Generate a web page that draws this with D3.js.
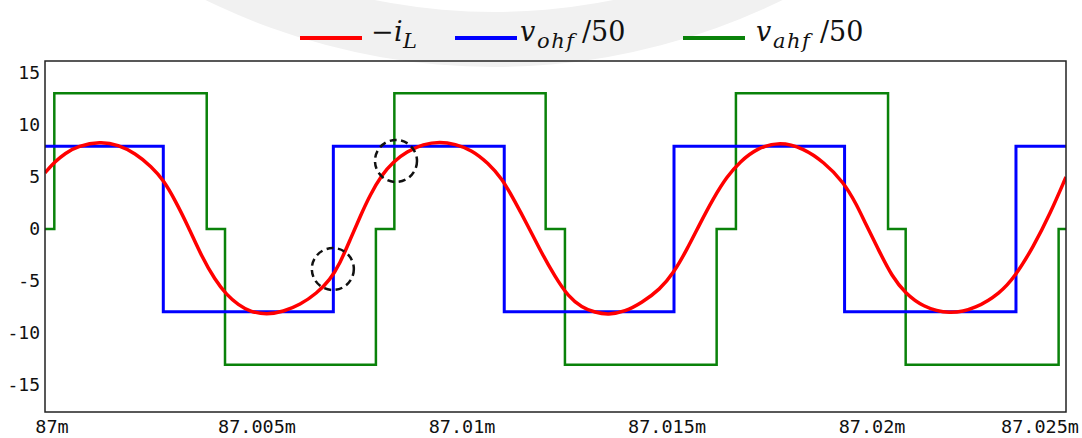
<!DOCTYPE html>
<html>
<head>
<meta charset="utf-8">
<script src="https://cdn.jsdelivr.net/npm/d3@7"></script>
<style>
  body { margin: 0; background: #fff; }
</style>
</head>
<body>
<svg id="chart" width="1082" height="438"></svg>
<script>
// time axis in microseconds after 87 ms
const xTickValues = [0, 5, 10, 15, 20, 25];
const xTickLabels = ["87m", "87.005m", "87.01m", "87.015m", "87.02m", "87.025m"];
const yTickValues = [15, 10, 5, 0, -5, -10, -15];

// -i_L
const iLTimes = [0, 0.244, 0.488, 0.812, 1.341, 1.788, 2.195, 2.602, 2.885, 3.171, 3.495, 3.822, 4.146, 4.432, 4.715, 5.0,
  5.407, 5.812, 6.22, 6.627, 6.951, 7.195, 7.439, 7.683, 7.927, 8.212, 8.495, 8.822, 9.227, 9.634, 10.0,
  10.407, 10.812, 11.139, 11.463, 11.788, 12.115, 12.439, 12.763, 13.09, 13.415, 13.739, 14.146, 14.554, 15.0,
  15.324, 15.651, 15.976, 16.3, 16.627, 16.951, 17.359, 17.927, 18.495, 18.983, 19.471, 19.798, 20.0,
  20.329, 20.659, 20.985, 21.395, 22.054, 22.71, 23.285, 23.654, 24.107, 24.517, 24.9];
const iLValues = [5.4, 6.47, 7.28, 7.98, 8.4, 8.1, 7.28, 5.99, 4.71, 2.79, 0.22, -2.66, -4.9, -6.35, -7.3, -7.95,
  -8.25, -7.95, -7.3, -6.19, -4.9, -3.3, -1.06, 1.18, 3.27, 5.19, 6.47, 7.43, 8.17, 8.4, 8.17,
  7.6, 6.32, 4.88, 2.63, 0.22, -2.34, -4.59, -6.51, -7.53, -8.04, -8.25, -7.95, -7.1, -5.8,
  -4.26, -2.02, 0.54, 2.95, 5.03, 6.47, 7.76, 8.4, 7.76, 6.47, 4.55, 2.31, 0.6,
  -2.02, -4.59, -6.19, -7.47, -8.25, -7.63, -6.19, -4.59, -1.7, 1.5, 5.0];

// v_ohf/50 switching instants and levels
const vohfTimes = [0, 2.885, 7.032, 11.2, 15.34, 19.5, 23.68];
const vohfLevels = [7.95, -7.95, 7.95, -7.95, 7.95, -7.95, 7.95];

// v_ahf/50 switching instants and levels
const vahfTimes = [0, 0.227, 3.944, 4.39, 8.07, 8.52, 12.21, 12.68, 16.38, 16.85, 20.56, 20.99, 24.72];
const vahfLevels = [0, 13.05, 0, -13.05, 0, 13.05, 0, -13.05, 0, 13.05, 0, -13.05, 0];

// dashed circle marks
const markTimes = [8.56, 7.02];
const markValues = [6.54, -3.85];

const seriesNames = ["iL", "vohf", "vahf"];
const seriesColors = ["#ff0000", "#0000ff", "#0a820a"];

const tEnd = 24.9;

const svg = d3.select("#chart");

const x = d3.scaleLinear().domain([0, tEnd]).range([45, 1066]);
const y = d3.scaleLinear().domain([-17.6, 16.15]).range([412, 61]);

// faint watermark band at the top
svg.append("path")
  .attr("d", d3.arc()({innerRadius: 600, outerRadius: 655, startAngle: Math.PI * 0.78, endAngle: Math.PI * 1.22}))
  .attr("transform", "translate(494,-588)")
  .attr("fill", "#f1f1f1");

svg.append("defs").append("clipPath").attr("id", "plotClip")
  .append("rect")
  .attr("x", 45).attr("y", 61)
  .attr("width", 1021).attr("height", 351);

// axes labels
svg.append("g")
  .selectAll("text")
  .data(yTickValues)
  .join("text")
  .attr("x", 40)
  .attr("y", d => y(d))
  .attr("dy", "0.36em")
  .attr("text-anchor", "end")
  .attr("font-family", "DejaVu Sans Mono")
  .attr("font-size", 18)
  .attr("fill", "#111")
  .text(d => d);

svg.append("g")
  .selectAll("text")
  .data(xTickValues)
  .join("text")
  .attr("x", (d, i) => i === xTickValues.length - 1 ? 1079 : x(d) + 7)
  .attr("y", 433)
  .attr("text-anchor", (d, i) => i === xTickValues.length - 1 ? "end" : "middle")
  .attr("font-family", "DejaVu Sans Mono")
  .attr("font-size", 18.5)
  .attr("fill", "#111")
  .text((d, i) => xTickLabels[i]);

const plot = svg.append("g").attr("clip-path", "url(#plotClip)");

const stepLine = d3.line()
  .x(d => x(d[0]))
  .y(d => y(d[1]))
  .curve(d3.curveStepAfter);

const stepData = (times, levels) => {
  const pts = times.map((t, i) => [t, levels[i]]);
  pts.push([tEnd, levels[levels.length - 1]]);
  return pts;
}

plot.append("path")
  .datum(stepData(vahfTimes, vahfLevels))
  .attr("d", stepLine)
  .attr("fill", "none")
  .attr("stroke", seriesColors[2])
  .attr("stroke-width", 2.5);

plot.append("path")
  .datum(stepData(vohfTimes, vohfLevels))
  .attr("d", stepLine)
  .attr("fill", "none")
  .attr("stroke", seriesColors[1])
  .attr("stroke-width", 3);

plot.append("path")
  .datum(iLTimes.map((t, i) => [t, iLValues[i]]))
  .attr("d", d3.line().x(d => x(d[0])).y(d => y(d[1])).curve(d3.curveBasis))
  .attr("fill", "none")
  .attr("stroke", seriesColors[0])
  .attr("stroke-width", 3.5);

plot.selectAll("circle.mark")
  .data(markTimes)
  .join("circle")
  .attr("class", "mark")
  .attr("cx", d => x(d))
  .attr("cy", (d, i) => y(markValues[i]))
  .attr("r", 21)
  .attr("fill", "none")
  .attr("stroke", "#111")
  .attr("stroke-width", 2.5)
  .attr("stroke-dasharray", "7,4.5");

// frame
svg.append("rect")
  .attr("x", 45).attr("y", 61)
  .attr("width", 1021).attr("height", 351)
  .attr("fill", "none")
  .attr("stroke", "#222")
  .attr("stroke-width", 1.5);

// legend: [text, x, italic, subscript]
const legendX = [300, 455, 683];
const legendParts = [
  [["−", 371, false, false], ["i", 394, true, false], ["L", 403, true, true]],
  [["v", 520, true, false], ["ohf", 537, true, true], ["/50", 582, false, false]],
  [["v", 756, true, false], ["ahf", 773, true, true], ["/50", 820, false, false]]
];

const legend = svg.append("g");
seriesNames.forEach((name, i) => {
  legend.append("line")
    .attr("x1", legendX[i]).attr("x2", legendX[i] + 62)
    .attr("y1", 38).attr("y2", 38)
    .attr("stroke", seriesColors[i])
    .attr("stroke-width", 4);

  legend.selectAll(null)
    .data(legendParts[i])
    .join("text")
    .attr("x", d => d[1])
    .attr("y", d => d[3] ? 48 : 41)
    .attr("font-family", "DejaVu Serif")
    .attr("font-size", d => d[3] ? 21 : 27)
    .attr("font-style", d => d[2] ? "italic" : "normal")
    .attr("letter-spacing", d => d[3] ? 1.5 : 0)
    .attr("fill", "#111")
    .text(d => d[0]);
});
</script>
</body>
</html>
